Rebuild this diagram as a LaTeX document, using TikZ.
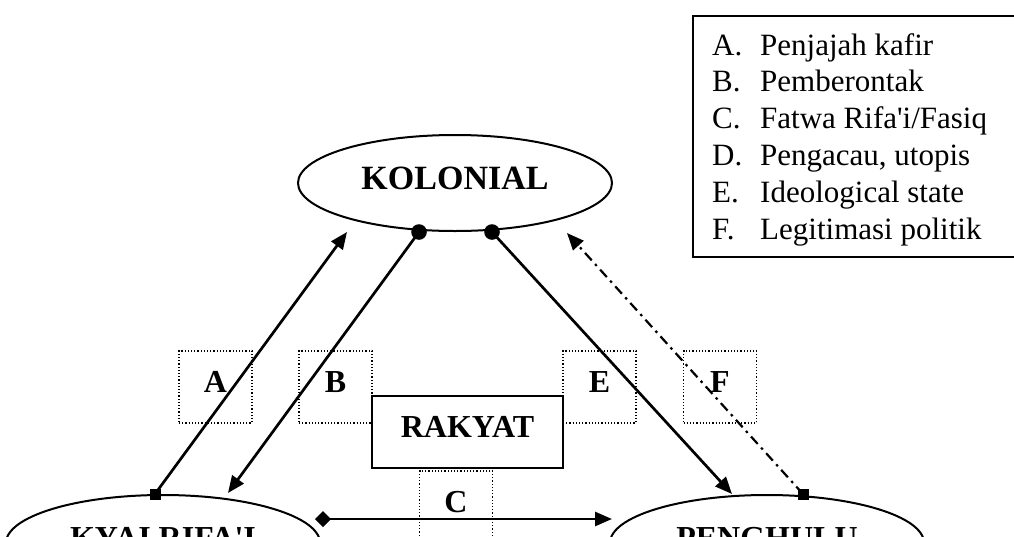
\documentclass[tikz,border=0pt]{standalone}
\usepackage{fontspec}
\setmainfont{Liberation Serif}
\usetikzlibrary{arrows.meta,shapes.geometric,calc}
\begin{document}
\begin{tikzpicture}[x=1pt,y=-1pt,
  bigfont/.style={font=\fontsize{32}{38}\selectfont\bfseries},
  ell/.style={draw,ellipse,line width=2pt,minimum width=314pt,minimum height=96pt,inner sep=0pt,bigfont,text depth=10pt},
  lbox/.style={draw,dotted,line width=1.2pt,minimum width=73pt,minimum height=72pt,inner sep=0pt,bigfont,text depth=10pt},
  conn/.style={line width=2.7pt,-{Triangle[length=17pt,width=14pt]}},
  dashdot/.style={line width=2.2pt,dash pattern=on 10pt off 5pt on 2.5pt off 5pt},
  legtext/.style={anchor=base west,inner sep=0pt,font=\fontsize{31}{36}\selectfont}]
\useasboundingbox (0,0) rectangle (1014,536);
\clip (0,0) rectangle (1014,536);

% main nodes
\node[ell,font=\fontsize{34}{40}\selectfont\bfseries] (kol) at (455,183) {KOLONIAL};
\node[ell] (kyai) at (163,543) {KYAI RIFA\textquotesingle I};
\node[ell] (peng) at (767,543) {PENGHULU};
\node[draw,line width=2pt,minimum width=191pt,minimum height=72pt,inner sep=0pt,bigfont,text depth=10pt] (rak) at (467.5,432) {RAKYAT};

% label boxes
\node[lbox] (bA) at (215.5,387) {A};
\node[lbox] (bB) at (335.5,387) {B};
\node[lbox] (bE) at (599.5,387) {E};
\node[lbox] (bF) at (720,387) {F};
\node[lbox] (bC) at (456,507) {C};

% legend
\node[draw,line width=2pt,anchor=north west,minimum width=340pt,minimum height=241pt,inner sep=0pt] (leg) at (692,15) {};
\node[legtext] (l1) at (712,55)    {\makebox[48pt][l]{A.}Penjajah kafir};
\node[legtext] (l2) at (712,91.8)  {\makebox[48pt][l]{B.}Pemberontak};
\node[legtext] (l3) at (712,128.6) {\makebox[48pt][l]{C.}Fatwa Rifa\textquotesingle i/Fasiq};
\node[legtext] (l4) at (712,165.4) {\makebox[48pt][l]{D.}Pengacau, utopis};
\node[legtext] (l5) at (712,202.2) {\makebox[48pt][l]{E.}Ideological state};
\node[legtext] (l6) at (712,239)   {\makebox[48pt][l]{F.}Legitimasi politik};

% connector ends
\coordinate (kolL) at ($(kol.south)+(-36,0)$);
\coordinate (kolR) at ($(kol.south)+(37,0)$);
\coordinate (kyaiTop) at ($(kyai.north)+(-8,0)$);
\coordinate (pengTop) at ($(peng.north)+(36,0)$);
\coordinate (aTip) at (347,232);
\coordinate (bTip) at (228,493);
\coordinate (eTip) at (732,494);
\coordinate (fTip) at (567,233);
\coordinate (cStart) at (323,519);
\coordinate (cTip) at (612,519);

% connectors
\draw[conn] (kyaiTop) -- (aTip);
\draw[conn] (kolL) -- (bTip);
\draw[conn] (kolR) -- (eTip);
\draw[conn,dashdot] (pengTop) -- (fTip);
\draw[conn] (cStart) -- (cTip);

% end markers
\fill (kolL) circle (7.8);
\fill (kolR) circle (7.8);
\fill ($(kyaiTop)+(-5.5,-5.5)$) rectangle ++(11,11);
\fill ($(pengTop)+(-5.5,-5.5)$) rectangle ++(11,11);
\fill (cStart) ++(-8,0) -- ++(8,-8) -- ++(8,8) -- ++(-8,8) -- cycle;
\end{tikzpicture}
\end{document}
